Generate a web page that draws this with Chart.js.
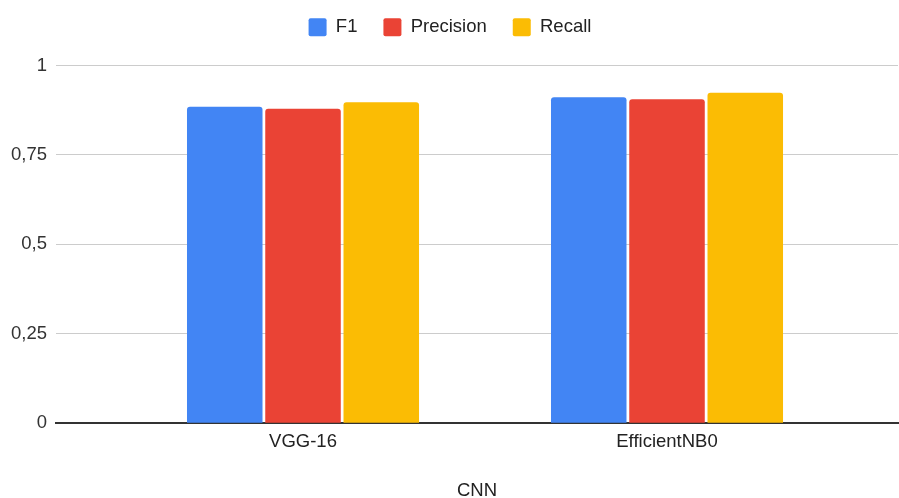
<!DOCTYPE html>
<html>
<head>
<meta charset="utf-8">
<script src="https://cdn.jsdelivr.net/npm/chart.js@4.4.1/dist/chart.umd.min.js"></script>
<style>
  html, body { margin: 0; padding: 0; background: #ffffff; }
  #wrap { width: 899px; height: 498px; }
</style>
</head>
<body>
<div id="wrap"><canvas id="chart_cnnScores"></canvas></div>
<script>
var categories = ['VGG-16', 'EfficientNB0'];
var f1Values = [0.885, 0.911];
var precisionValues = [0.879, 0.906];
var recallValues = [0.897, 0.924];
var yTicks = [0, 0.25, 0.5, 0.75, 1];

var fontFamily = '"Liberation Sans", Arial, sans-serif';

function points(values) {
    return values.map(function (v, i) { return { x: i, y: v }; });
}

var chart_cnnScores = new Chart(document.getElementById('chart_cnnScores'), {
    type: 'bar',
    data: {
        datasets: [
            { label: 'F1', data: points(f1Values), backgroundColor: '#4285f4' },
            { label: 'Precision', data: points(precisionValues), backgroundColor: '#ea4335' },
            { label: 'Recall', data: points(recallValues), backgroundColor: '#fbbc04' }
        ]
    },
    options: {
        animation: false,
        responsive: true,
        maintainAspectRatio: false,
        categoryPercentage: 0.645,
        barPercentage: 0.965,
        borderRadius: { topLeft: 3, topRight: 3 },
        borderSkipped: 'bottom',
        layout: { padding: { left: 2, right: 1, top: -8, bottom: -2 } },
        plugins: {
            legend: {
                position: 'top',
                labels: {
                    boxWidth: 18,
                    boxHeight: 18,
                    useBorderRadius: true,
                    borderRadius: 2,
                    padding: 26,
                    color: '#222222',
                    font: { family: fontFamily, size: 18.5 }
                }
            },
            tooltip: { enabled: false }
        },
        scales: {
            x: {
                type: 'linear',
                offset: false,
                min: -0.6786,
                max: 1.6346,
                afterBuildTicks: function (scale) {
                    scale.ticks = categories.map(function (c, i) { return { value: i }; });
                },
                ticks: {
                    callback: function (value) { return categories[value]; },
                    color: '#222222',
                    padding: 8,
                    font: { family: fontFamily, size: 18.5 }
                },
                grid: { display: false, drawTicks: false },
                border: { display: true, color: '#333333', width: 2 },
                title: {
                    display: true,
                    text: 'CNN',
                    color: '#222222',
                    padding: { top: 20, bottom: 0 },
                    font: { family: fontFamily, size: 18.5, lineHeight: 1 }
                }
            },
            y: {
                min: 0,
                max: 1,
                afterBuildTicks: function (scale) {
                    scale.ticks = yTicks.map(function (v) { return { value: v }; });
                },
                ticks: {
                    callback: function (value) { return String(value).replace('.', ','); },
                    color: '#333333',
                    padding: 9,
                    font: { family: fontFamily, size: 18.5 }
                },
                grid: { color: '#cccccc', drawTicks: false },
                border: { display: false }
            }
        }
    },
    plugins: [{
        id: 'legendGap',
        beforeInit: function (chart) {
            var fit = chart.legend.fit;
            chart.legend.fit = function () {
                fit.call(this);
                this.height += 19;
            };
        }
    }]
});
</script>
</body>
</html>
